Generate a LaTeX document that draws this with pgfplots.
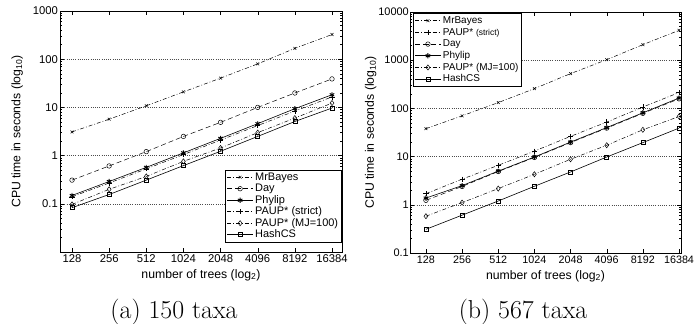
\documentclass[border=0pt]{standalone}
\usepackage{fontspec}
\usepackage{pgfplots}
\pgfplotsset{compat=1.18}
\newfontfamily\arial{Liberation Sans}
\tikzset{
  dashdot/.style={dash pattern=on 4pt off 2pt on 0.8pt off 2pt},
  sMrB/.style={black, line width=0.5pt, dashdot, mark=x, mark size=2pt, mark options={solid}},
  sDay/.style={black, line width=0.5pt, dash pattern=on 5pt off 3pt, mark=o, mark size=2.3pt, mark options={solid}},
  sPhy/.style={black, line width=0.6pt, solid, mark=asterisk, mark size=2.6pt, mark options={solid, line width=0.9pt}},
  sStr/.style={black, line width=0.5pt, dashdot, mark=+, mark size=2.6pt, mark options={solid}},
  sMJ/.style={black, line width=0.5pt, dashdot, mark=diamond, mark size=2.6pt, mark options={solid}},
  sHash/.style={black, line width=0.6pt, solid, mark=square, mark size=2pt, mark options={solid}},
}
\pgfplotsset{
  legend image code/.code={\draw[mark repeat=2,mark phase=2,#1] plot coordinates {(0cm,0cm) (0.45cm,0cm) (0.9cm,0cm)};},
}
\begin{document}
\begin{tikzpicture}
\path[use as bounding box] (0,0) rectangle (695bp,324bp);
% ---------------- (a) 150 taxa ----------------
\begin{axis}[
  scale only axis, anchor=south west,
  at={(60bp,72bp)}, width=282bp, height=241bp,
  xmode=log, log basis x=2, ymode=log,
  xmin=102.3, xmax=19750, ymin=0.01, ymax=1000,
  xtick={128,256,512,1024,2048,4096,8192,16384},
  xticklabels={128,256,512,1024,2048,4096,8192,16384},
  ytick={0.1,1,10,100,1000}, yticklabels={0.1,1,10,100,1000},
  minor ytick={0.02,0.03,0.04,0.05,0.06,0.07,0.08,0.09,0.2,0.3,0.4,0.5,0.6,0.7,0.8,0.9,2,3,4,5,6,7,8,9,20,30,40,50,60,70,80,90,200,300,400,500,600,700,800,900},
  tick align=inside, tick pos=both,
  axis line style={black, line width=0.8pt},
  every tick/.style={black, line width=0.4pt},
  major tick length=4bp, minor tick length=2bp,
  ymajorgrids, major grid style={black!70, line width=0.35pt, dash pattern=on 0.6pt off 1.6pt},
  xticklabel style={font=\arial\fontsize{11.3}{12}\selectfont, inner sep=2.5pt},
  yticklabel style={font=\arial\fontsize{11.3}{12}\selectfont, inner sep=2pt},
  label style={font=\arial\fontsize{12.3}{14}\selectfont},
  xlabel={number of trees (log\textsubscript{2})},
  ylabel={CPU time in seconds (log\textsubscript{10})},
  x label style={at={(axis description cs:0.5,-0.095)}, anchor=center},
  y label style={at={(axis description cs:-0.152,0.5)}, rotate=0, anchor=center},
  legend cell align=left,
  legend style={draw=black, line width=0.8pt, fill=white, inner sep=1.5pt,
    nodes={inner xsep=2pt, inner ysep=0.3pt, text height=8.3bp, text depth=2.6bp, line width=0.5pt},
    at={(1,0.04)}, anchor=south east, font=\arial\fontsize{11}{12}\selectfont},
]
\addplot[sMrB] coordinates {(128,3.1) (256,5.7) (512,10.8) (1024,21) (2048,40.5) (4096,80) (8192,168) (16384,325)};
\addlegendentry{MrBayes}
\addplot[sDay] coordinates {(128,0.31) (256,0.61) (512,1.21) (1024,2.5) (2048,4.9) (4096,10) (8192,19.9) (16384,39)};
\addlegendentry{Day}
\addplot[sPhy] coordinates {(128,0.149) (256,0.29) (512,0.57) (1024,1.14) (2048,2.28) (4096,4.6) (8192,9.4) (16384,18.3)};
\addlegendentry{Phylip}
\addplot[sStr] coordinates {(128,0.14) (256,0.27) (512,0.53) (1024,1.05) (2048,2.1) (4096,4.2) (8192,8.4) (16384,16.5)};
\addlegendentry{PAUP* (strict)}
\addplot[sMJ] coordinates {(128,0.097) (256,0.2) (512,0.37) (1024,0.76) (2048,1.44) (4096,3.0) (8192,6.0) (16384,12.3)};
\addlegendentry{PAUP* (MJ=100)}
\addplot[sHash] coordinates {(128,0.083) (256,0.156) (512,0.31) (1024,0.62) (2048,1.23) (4096,2.5) (8192,5.1) (16384,9.7)};
\addlegendentry{HashCS}
\end{axis}
% ---------------- (b) 567 taxa ----------------
\begin{axis}[
  scale only axis, anchor=south west,
  at={(410bp,71bp)}, width=271bp, height=241bp,
  xmode=log, log basis x=2, ymode=log,
  xmin=94.3, xmax=17020, ymin=0.1, ymax=10000,
  xtick={128,256,512,1024,2048,4096,8192,16384},
  xticklabels={128,256,512,1024,2048,4096,8192,16384},
  ytick={0.1,1,10,100,1000,10000}, yticklabels={0.1,1,10,100,1000,10000},
  minor ytick={0.2,0.3,0.4,0.5,0.6,0.7,0.8,0.9,2,3,4,5,6,7,8,9,20,30,40,50,60,70,80,90,200,300,400,500,600,700,800,900,2000,3000,4000,5000,6000,7000,8000,9000},
  tick align=inside, tick pos=both,
  axis line style={black, line width=0.8pt},
  every tick/.style={black, line width=0.4pt},
  major tick length=4bp, minor tick length=2bp,
  ymajorgrids, major grid style={black!70, line width=0.35pt, dash pattern=on 0.6pt off 1.6pt},
  xticklabel style={font=\arial\fontsize{10.8}{12}\selectfont, inner sep=2.5pt},
  yticklabel style={font=\arial\fontsize{11}{12}\selectfont, inner sep=1pt},
  label style={font=\arial\fontsize{12.3}{14}\selectfont},
  xlabel={number of trees (log\textsubscript{2})},
  ylabel={CPU time in seconds (log\textsubscript{10})},
  x label style={at={(axis description cs:0.5,-0.095)}, anchor=center},
  y label style={at={(axis description cs:-0.145,0.5)}, rotate=0, anchor=center},
  legend cell align=left,
  legend style={draw=black, line width=0.8pt, fill=white, inner sep=1.5pt,
    nodes={inner xsep=2pt, inner ysep=0.6pt, text height=8bp, text depth=2.5bp, line width=0.5pt},
    at={(0.011,0.996)}, anchor=north west, font=\arial\fontsize{10}{11}\selectfont},
]
\addplot[sMrB] coordinates {(128,38) (256,70) (512,132) (1024,257) (2048,527) (4096,1025) (8192,2100) (16384,4170)};
\addlegendentry{MrBayes}
\addplot[sStr] coordinates {(128,1.7) (256,3.4) (512,6.6) (1024,13) (2048,26.3) (4096,52) (8192,107) (16384,213)};
\addlegendentry{PAUP* {\fontsize{8.5}{9}\selectfont (strict)}}
\addplot[sDay] coordinates {(128,1.24) (256,2.4) (512,4.9) (1024,9.6) (2048,19.5) (4096,39) (8192,79) (16384,158)};
\addlegendentry{Day}
\addplot[sPhy] coordinates {(128,1.38) (256,2.5) (512,5.0) (1024,9.8) (2048,20) (4096,40) (8192,81) (16384,164)};
\addlegendentry{Phylip}
\addplot[sMJ] coordinates {(128,0.58) (256,1.11) (512,2.17) (1024,4.3) (2048,8.8) (4096,17.2) (8192,36) (16384,68)};
\addlegendentry{PAUP* (MJ=100)}
\addplot[sHash] coordinates {(128,0.31) (256,0.61) (512,1.2) (1024,2.42) (2048,4.8) (4096,9.8) (8192,19.5) (16384,39)};
\addlegendentry{HashCS}
\end{axis}
\node[font=\fontsize{26}{30}\selectfont] at (174bp,12bp) {(a) 150 taxa};
\node[font=\fontsize{26}{30}\selectfont] at (523bp,12bp) {(b) 567 taxa};
\end{tikzpicture}
\end{document}
